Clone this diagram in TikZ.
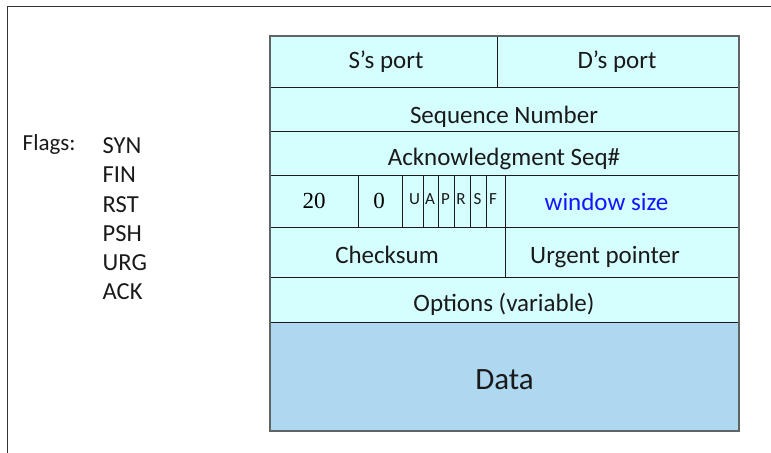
\documentclass[tikz,border=0pt]{standalone}
\usepackage{fontspec}
\setmainfont{Carlito}
\newfontfamily\numfont{Liberation Serif}
\definecolor{hdrcyan}{HTML}{D5FFFF}
\definecolor{datablue}{HTML}{AED8F0}
\definecolor{inkgray}{HTML}{1A1A1A}
\definecolor{edgegray}{HTML}{5F6464}
\definecolor{winblue}{HTML}{1414FF}
\begin{document}
\begin{tikzpicture}[x=1bp,y=-1bp,
  gridline/.style={draw=inkgray, line width=0.9bp},
  frameline/.style={draw=black!80, line width=1.4bp},
  lbl/.style={anchor=base, inner sep=0pt, text=inkgray, font=\fontsize{25bp}{30bp}\selectfont},
  biglbl/.style={lbl, font=\fontsize{31bp}{36bp}\selectfont},
  flaglbl/.style={anchor=base west, inner sep=0pt, text=inkgray, font=\fontsize{23bp}{28bp}\selectfont},
  flagitem/.style={flaglbl, font=\fontsize{24.5bp}{29bp}\selectfont},
  bitlbl/.style={anchor=base, inner sep=0pt, text=inkgray, font=\fontsize{17bp}{20bp}\selectfont},
  numlbl/.style={anchor=base, inner sep=0pt, text=black, font=\numfont\fontsize{23bp}{27bp}\selectfont}]
\useasboundingbox (0,0) rectangle (771,453);

% open frame: top and left edges
\draw[frameline] (7.7,453) -- (7.7,6.5) -- (771,6.5);

% segment body
\fill[hdrcyan] (270,36) rectangle (739,322);
\fill[datablue] (270,322) rectangle (739,431);

% row separators
\foreach \yy in {87,131,175,227,277,322}
  \draw[gridline] (270,\yy) -- (739,\yy);

% column separators
\draw[gridline] (497,36) -- (497,87);
\foreach \xx in {358,402,423,438,454,470,486,505}
  \draw[gridline] (\xx,175) -- (\xx,227);
\draw[gridline] (505,227) -- (505,277);

% outer edge of the segment
\draw[draw=edgegray, line width=1.4bp] (270,36) rectangle (739,431);

% field labels
\node[lbl] (sport) at (386,69) {S’s port};
\node[lbl] (dport) at (617,69) {D’s port};
\node[lbl] (seq) at (504,124) {Sequence Number};
\node[lbl] (ack) at (504,166) {Acknowledgment Seq\#};
\node[numlbl] (hlen) at (314,209) {20};
\node[numlbl] (rsvd) at (379,209) {0};
\node[bitlbl] (bu) at (414.5,205) {U};
\node[bitlbl] (ba) at (430,205) {A};
\node[bitlbl] (bp) at (445.5,205) {P};
\node[bitlbl] (br) at (461,205) {R};
\node[bitlbl] (bs) at (477.5,205) {S};
\node[bitlbl] (bf) at (493,205) {F};
\node[lbl, text=winblue] (win) at (606.5,211) {window size};
\node[lbl] (csum) at (387,264) {Checksum};
\node[lbl] (urg) at (605,264) {Urgent pointer};
\node[lbl] (opts) at (504,312) {Options (variable)};
\node[biglbl] (data) at (504.5,389) {Data};

% flag legend
\node[flaglbl] (flags) at (22.5,150.5) {Flags:};
\node[flagitem] (fsyn) at (102.5,153.5) {SYN};
\node[flagitem] (ffin) at (102.5,182.8) {FIN};
\node[flagitem] (frst) at (102.5,212.1) {RST};
\node[flagitem] (fpsh) at (102.5,241.4) {PSH};
\node[flagitem] (furg) at (102.5,270.7) {URG};
\node[flagitem] (fack) at (102.5,300) {ACK};
\end{tikzpicture}
\end{document}
